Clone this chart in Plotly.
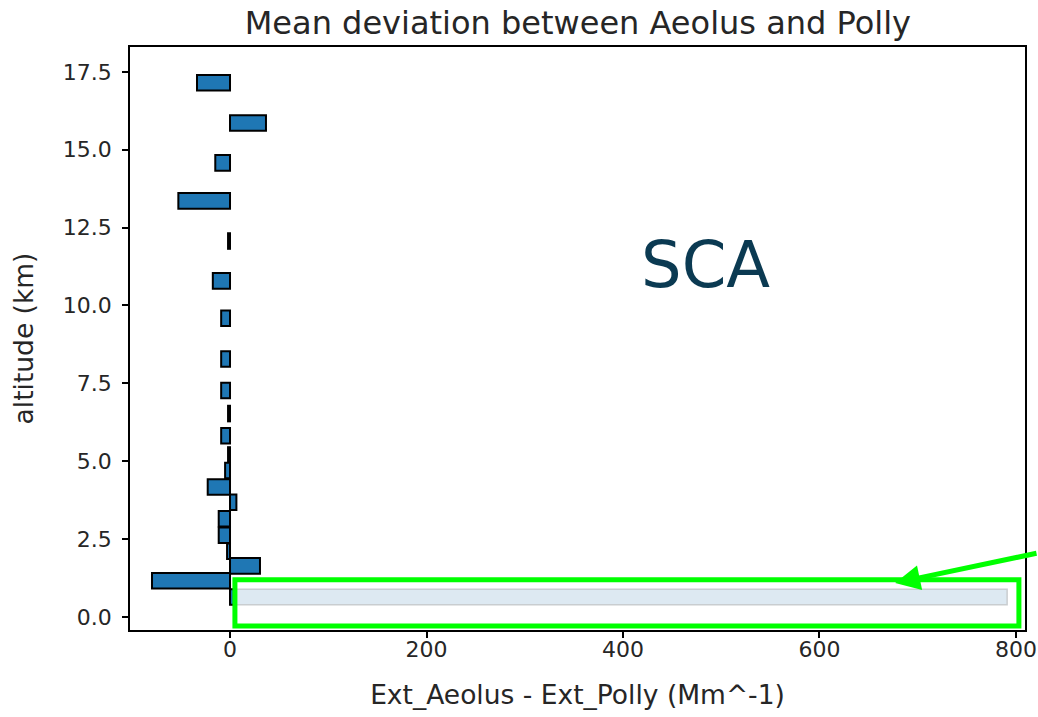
import plotly.graph_objects as go

# Mean extinction difference per altitude bin (Mm^-1)
altitude_km = [17.15, 15.86, 14.58, 13.36, 12.07, 10.79, 9.59, 8.28, 7.27, 6.53,
               5.82, 5.20, 4.70, 4.17, 3.68, 3.15, 2.62, 2.11, 1.64, 1.16, 0.64]
mean_deviation = [-33.6, 36.6, -15.0, -52.6, -2.0, -17.5, -9.0, -9.0, -9.0, -2.0,
                  -9.0, -2.0, -5.0, -22.7, 6.5, -11.5, -11.5, -3.0, 30.5, -79.4, 4.0]

# Outlier bin in the lowest layer, drawn faded
outlier_altitude = [0.64]
outlier_deviation = [791.0]

x_ticks = [0, 200, 400, 600, 800]
y_ticks = [0.0, 2.5, 5.0, 7.5, 10.0, 12.5, 15.0, 17.5]

FONT = "DejaVu Sans"
TXT = "#262626"

fig = go.Figure()

fig.add_trace(go.Bar(
    x=outlier_deviation, y=outlier_altitude, orientation="h", width=0.5,
    marker=dict(color="#dde9f2", line=dict(color="#c9cdd0", width=1.5)),
    showlegend=False, hoverinfo="skip",
))

fig.add_trace(go.Bar(
    x=mean_deviation, y=altitude_km, orientation="h", width=0.5,
    marker=dict(color="#1f77b4", line=dict(color="black", width=2)),
    showlegend=False,
))

# Highlight box around the outlier
fig.add_shape(type="rect", xref="x", yref="y",
              x0=5, x1=803, y0=-0.29, y1=1.19,
              line=dict(color="#00ff00", width=5), fillcolor="rgba(0,0,0,0)")

fig.add_annotation(x=677, y=1.09, xref="x", yref="y", text="",
                   showarrow=True, arrowhead=2, arrowsize=1.0,
                   arrowwidth=5, arrowcolor="#00ff00",
                   ax=150, ay=-30)

fig.add_annotation(x=0.643, y=11.3, xref="paper", yref="y",
                   text="SCA", showarrow=False,
                   font=dict(family=FONT, size=64, color="#0b3a52"))

fig.update_layout(
    width=1038, height=717,
    margin=dict(l=130, r=13, t=47, b=87),
    plot_bgcolor="white", paper_bgcolor="white",
    barmode="overlay",
    font=dict(family=FONT, size=22, color=TXT),
    title=dict(text="Mean deviation between Aeolus and Polly",
               x=0.5567, xanchor="center", y=1 - 23 / 717, yanchor="middle",
               yref="container",
               font=dict(family=FONT, size=32, color=TXT)),
    xaxis=dict(range=[-101.8, 809.2], tickvals=x_ticks, automargin=False,
               ticks="outside", ticklen=6, tickwidth=1.5, tickcolor="black",
               ticklabelstandoff=-7,
               tickfont=dict(family=FONT, size=22, color=TXT),
               showline=True, linecolor="black", linewidth=1.5, mirror=True,
               showgrid=False, zeroline=False,
               title=dict(text="Ext_Aeolus - Ext_Polly (Mm^-1)", standoff=24,
                          font=dict(family=FONT, size=26.5, color=TXT))),
    yaxis=dict(range=[-0.42, 18.30], tickvals=y_ticks, automargin=False,
               ticktext=[f"{v:.1f}" for v in y_ticks],
               ticks="outside", ticklen=6, tickwidth=1.5, tickcolor="black",
               ticklabelstandoff=6,
               tickfont=dict(family=FONT, size=22, color=TXT),
               showline=True, linecolor="black", linewidth=1.5, mirror=True,
               showgrid=False, zeroline=False,
               title=dict(text="altitude (km)", standoff=22,
                          font=dict(family=FONT, size=26.5, color=TXT))),
)

fig.write_html("out.html")
